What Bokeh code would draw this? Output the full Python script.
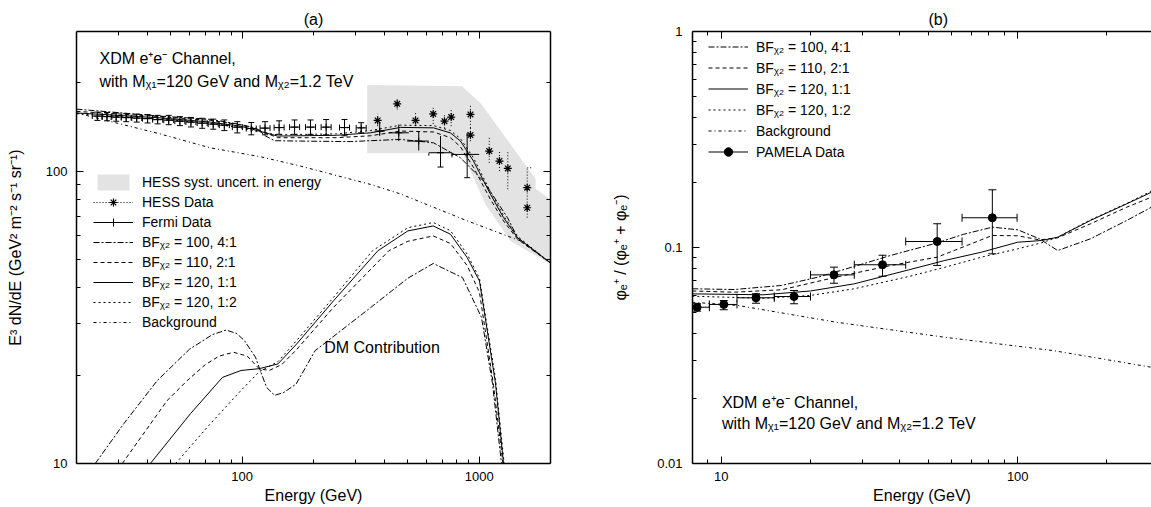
import math
from bokeh.plotting import figure
from bokeh.layouts import row
from bokeh.models import (Range1d, LogAxis, FixedTicker, CustomJSTickFormatter, Whisker,
                          TeeHead, ColumnDataSource, Legend, LegendItem, Label)
from bokeh.embed import file_html
from bokeh.resources import INLINE

FONT = "Liberation Sans"

# ======================= Panel (a) data =======================
band_E = [337, 337, 847, 1013, 1730, 1730, 2000, 2000, 1356, 1064, 919, 851]
band_v = [115, 197, 195, 171, 94, 87, 80, 48, 57.7, 76.9, 100, 115]

hess_E = [373, 451, 539, 640, 714, 762, 919, 919, 1103, 1218, 1321, 1595, 1595]
hess_v = [149, 169.7, 149, 156.8, 148.1, 152.9, 156.2, 132.7, 117, 108.2, 102.1, 87.7, 74.9]
hess_lo = [142.4, 162.4, 142.4, 145, 140, 142.4, 140.5, 126.6, 106.7, 100, 86.6, 78, 69.3]
hess_hi = [156.9, 177, 158.1, 164.4, 157.6, 161.5, 169.3, 140.5, 130, 117, 116.4, 102.6, 78]

fermi_E = [24.5, 26.9, 29.4, 32.4, 35.9, 39.9, 44.0, 49.0, 54.6, 60.8, 67.8, 75.5, 84.1, 95.4,
           109.3, 124.9, 143.2, 166.4, 194.3, 226.1, 270.3, 317.9, 380.5, 458, 556, 687, 890]
fermi_Elo = [23.3, 25.6, 28.0, 30.9, 34.2, 38.0, 41.9, 46.7, 52.0, 57.9, 64.6, 71.9, 80.1, 90.9,
             104.1, 119.0, 136.4, 158.5, 185.1, 215.4, 257.5, 302.8, 362.4, 416, 497, 613, 768]
fermi_Ehi = [25.7, 28.2, 30.9, 34.0, 37.7, 41.9, 46.2, 51.4, 57.3, 63.8, 71.2, 79.3, 88.3, 100.2,
             114.7, 131.1, 150.3, 174.7, 204.0, 237.4, 283.8, 333.7, 399.4, 505, 613, 768, 1000]
fermi_v = [154.1, 153.5, 152.9, 152.3, 151.7, 151.1, 149.9, 149.3, 148.1, 147.0, 145.8, 144.7, 143.5,
           141.3, 139.7, 140.2, 140.8, 141.3, 141.3, 141.3, 140.8, 140.5, 136.9, 135.1, 126.6, 115.5, 114.0]
fermi_lo = [149, 148.5, 148, 147.5, 147, 146, 145, 144, 143, 141.5, 140, 139, 137.5, 135, 133, 133,
            133.5, 133.5, 133.5, 133, 132, 135.1, 131.7, 126.6, 117.6, 103.2, 94.9]
fermi_hi = [159, 158.5, 158, 157, 156.5, 156, 155, 155, 153.5, 152.5, 151.5, 150.5, 149.5, 147.5,
            146.5, 147.5, 148.5, 149.5, 149.5, 150, 150, 146.3, 146.3, 144.3, 136.9, 131.7, 135.1]

bg_a_E = [20, 45, 73.5, 119, 176, 348, 466, 893, 1493, 2000]
bg_a_v = [158, 134, 120, 112, 104, 90, 83.5, 67.5, 57.7, 48.5]

tot41_E = [20, 45, 73.5, 98.4, 115, 125, 137, 176, 286, 466, 642, 834, 1043, 1317, 1451, 2000]
tot41_v = [162.8, 154.1, 150.2, 144.3, 140, 132, 127, 126.6, 126.1, 128.3, 124.9, 111, 92.4, 69.3, 59.2, 48.5]
tot_E = [20, 45, 73.5, 98.4, 118, 141, 250, 348, 466, 642, 757, 834, 946, 1116, 1267, 1451, 2000]
tot21_v = [160, 153.5, 149, 144, 138, 130, 130, 132, 137, 136, 130, 121, 103, 80, 67.5, 58.5, 48.5]
tot11_v = [158, 152, 147, 142.4, 137, 131.7, 132.5, 135.1, 141, 140.5, 135, 126.6, 108.2, 83.3, 69.3, 59.2, 48.5]
tot12_v = [157, 150.5, 145.5, 140.5, 136, 133, 134, 137.5, 143.5, 143, 137.5, 129, 111, 85, 70.5, 59.8, 48.5]

dm41_E = [24, 31.7, 43.8, 60, 75, 85.7, 95, 102.3, 113.8, 120, 126.8, 137, 150, 169, 203, 348, 500, 640, 851, 1023, 1138, 1242]
dm41_v = [10, 13.7, 19.2, 24.6, 27.6, 28.6, 27.8, 26.3, 23.1, 20.5, 18.2, 17.1, 17.5, 18.7, 24.3, 34.1, 43, 48.3, 43.2, 31.6, 18.8, 10]
dm21_E = [31.2, 48.2, 58.6, 70, 80, 92, 105, 118, 130, 147, 169.6, 243, 416, 500, 640, 757, 890, 1003, 1150, 1260]
dm21_v = [10, 16.4, 19.2, 21.8, 23.3, 24, 23.3, 21.1, 20.8, 21.8, 24.5, 34.2, 53.4, 57.5, 60, 56.5, 47.5, 38.5, 18.5, 10]
dm11_E = [41, 60.5, 82.6, 98.9, 118, 141.6, 169.6, 243, 374, 500, 640, 757, 890, 1003, 1172, 1267]
dm11_v = [10, 14.8, 19.7, 20.8, 21.1, 21.9, 25.6, 36, 53.4, 62.4, 64.9, 60.8, 50.6, 42.1, 18.8, 10]
dm12_E = [52.4, 71.2, 98.4, 118, 141.6, 169.6, 243, 355, 500, 640, 757, 890, 1003, 1172, 1275]
dm12_v = [10, 13.3, 17.7, 20.6, 22.3, 26.3, 37, 53.4, 64, 66.7, 62.5, 52, 43, 19.5, 10]

# ======================= Panel (b) data =======================
pam_E = [8.29, 10.2, 13.1, 17.6, 24.0, 35.0, 53.5, 82.1]
pam_v = [0.0529, 0.0545, 0.0585, 0.0593, 0.0747, 0.0832, 0.1066, 0.1373]
pam_lo = [0.0507, 0.0515, 0.0552, 0.0549, 0.0683, 0.0736, 0.0826, 0.0935]
pam_hi = [0.0549, 0.0568, 0.0611, 0.0632, 0.0811, 0.0921, 0.1288, 0.185]
pam_Elo = [7.4, 9.12, 11.3, 15.1, 20.0, 28.1, 41.9, 64.9]
pam_Ehi = [9.12, 11.3, 15.1, 20.0, 28.1, 41.9, 64.9, 99.5]

bg_b_E = [7.99, 11.4, 24.4, 56.8, 132.2, 282.6]
bg_b_v = [0.0558, 0.0539, 0.0451, 0.0384, 0.0333, 0.0279]

r41_E = [7.99, 11.06, 15.96, 21.2, 28.1, 37.2, 53.5, 65.5, 82.1, 100, 118.4, 136.4, 175.9, 233.2, 282.6]
r41_v = [0.0644, 0.0639, 0.0667, 0.0729, 0.0817, 0.0918, 0.105, 0.115, 0.1242, 0.1208, 0.1097, 0.0968, 0.1097, 0.1334, 0.1537]
r21_E = [7.99, 11.06, 15.96, 24.4, 37.2, 53.5, 82.1, 100, 118.4, 136.4, 175.9, 233.2, 282.6]
r21_v = [0.0629, 0.0621, 0.0637, 0.0729, 0.0825, 0.0902, 0.1137, 0.1133, 0.1085, 0.1109, 0.1287, 0.1537, 0.171]
r1x_E = [7.99, 13.85, 20, 28.1, 42.9, 56.8, 75.4, 100, 120.2, 136.4, 175.9, 233.2, 282.6]
r11_v = [0.061, 0.0604, 0.0629, 0.0679, 0.0788, 0.0871, 0.0951, 0.1058, 0.1077, 0.1116, 0.1334, 0.1593, 0.1803]
r12_v = [0.0595, 0.0582, 0.06, 0.0644, 0.0734, 0.081, 0.0902, 0.0986, 0.1051, 0.1116, 0.1343, 0.16, 0.1823]

# tick positions
a_xticks, a_xminor = [100, 1000], [30, 40, 50, 60, 70, 80, 90, 200, 300, 400, 500, 600, 700, 800, 900]
a_yticks, a_yminor = [10, 100], [20, 30, 40, 50, 60, 70, 80, 90, 200]
b_xticks, b_xminor = [10, 100], [9, 20, 30, 40, 50, 60, 70, 80, 90, 200]
b_yticks, b_yminor = [0.01, 0.1, 1], [0.02, 0.03, 0.04, 0.05, 0.06, 0.07, 0.08, 0.09,
                                      0.2, 0.3, 0.4, 0.5, 0.6, 0.7, 0.8, 0.9]

D41 = "6 2 2 2"
D21 = "4 3"
D12 = "2 3"
DBG = "3 3 1 3"


def fmt(hidden=False):
    if hidden:
        return CustomJSTickFormatter(code="return '';")
    return CustomJSTickFormatter(code="return tick.toString();")


def style_axis(ax, labels=True):
    ax.major_tick_in = 7
    ax.major_tick_out = 0
    ax.minor_tick_in = 4
    ax.minor_tick_out = 0
    ax.axis_line_color = "black"
    ax.axis_line_width = 1.5
    ax.major_tick_line_color = "black"
    ax.minor_tick_line_color = "black"
    ax.major_label_text_font = FONT
    ax.major_label_text_color = "black"
    ax.axis_label_text_font = FONT
    ax.axis_label_text_font_style = "normal"
    ax.axis_label_text_font_size = "16px"
    ax.axis_label_text_color = "black"
    if labels:
        ax.major_label_text_font_size = "13px"
    else:
        ax.major_label_text_font_size = "1px"
        ax.major_label_standoff = 0


def new_fig(width, xr, yr, mbl, mbr):
    p = figure(width=width, height=507, x_axis_type="log", y_axis_type="log",
               x_range=Range1d(*xr), y_range=Range1d(*yr),
               output_backend="svg", toolbar_location=None,
               min_border_left=mbl, min_border_right=mbr, min_border_top=31, min_border_bottom=44)
    p.xgrid.grid_line_color = None
    p.ygrid.grid_line_color = None
    p.outline_line_color = None
    p.background_fill_color = "white"
    p.border_fill_color = "white"
    return p


def setup_axes(p, xt, xm, yt, ym, right=True):
    bx = p.below[0]
    ly = p.left[0]
    bx.ticker = FixedTicker(ticks=xt, minor_ticks=xm)
    ly.ticker = FixedTicker(ticks=yt, minor_ticks=ym)
    bx.formatter = fmt()
    ly.formatter = fmt()
    style_axis(bx)
    style_axis(ly)
    top = LogAxis(ticker=FixedTicker(ticks=xt, minor_ticks=xm), formatter=fmt(True))
    style_axis(top, labels=False)
    p.add_layout(top, "above")
    if right:
        rt = LogAxis(ticker=FixedTicker(ticks=yt, minor_ticks=ym), formatter=fmt(True))
        style_axis(rt, labels=False)
        p.add_layout(rt, "right")
    return bx, ly


def style_title(p, text, align, offset=0):
    p.title.text = text
    p.title.align = align
    p.title.offset = offset
    p.title.text_font = FONT
    p.title.text_font_size = "16px"
    p.title.text_font_style = "normal"
    p.title.text_color = "black"
    p.title.standoff = 7


def label(p, x, y, text):
    p.add_layout(Label(x=x, y=y, text=text, text_font=FONT, text_font_size="16px",
                       text_baseline="middle", text_align="left", text_color="black"))


# ======================= Figure (a) =======================
pa = new_fig(600, (20, 2000), (10, 300), 76, 50)
ax_b, ax_l = setup_axes(pa, a_xticks, a_xminor, a_yticks, a_yminor, right=True)
style_title(pa, "(a)", "center")
ax_b.axis_label = "Energy (GeV)"
ax_l.axis_label = "E\u00b3 dN/dE (GeV\u00b2 m\u207b\u00b2 s\u207b\u00b9 sr\u207b\u00b9)"
ax_b.major_label_standoff = 8
ax_b.axis_label_standoff = 3
ax_l.major_label_standoff = 9
ax_l.axis_label_standoff = 19

band_r = pa.patch(band_E, band_v, fill_color="#e3e3e3", line_color=None)

hsrc = ColumnDataSource(dict(E=hess_E, v=hess_v, lo=hess_lo, hi=hess_hi))
hess_bar = pa.segment(x0="E", y0="lo", x1="E", y1="hi", source=hsrc, line_color="black",
                      line_dash="1 2", line_width=1)
pa.add_layout(Whisker(source=hsrc, base="E", lower="lo", upper="hi", line_alpha=0,
                      upper_head=TeeHead(size=8, line_color="black", line_width=1, line_dash="1 2"),
                      lower_head=TeeHead(size=8, line_color="black", line_width=1, line_dash="1 2")))
hess_pts = pa.scatter("E", "v", source=hsrc, marker="asterisk", size=8, line_color="black", line_width=1.2)

fsrc = ColumnDataSource(dict(E=fermi_E, Elo=fermi_Elo, Ehi=fermi_Ehi, v=fermi_v, lo=fermi_lo, hi=fermi_hi))
fermi_h = pa.segment(x0="Elo", y0="v", x1="Ehi", y1="v", source=fsrc, line_color="black", line_width=1)
pa.segment(x0="E", y0="lo", x1="E", y1="hi", source=fsrc, line_color="black", line_width=1)
pa.add_layout(Whisker(source=fsrc, base="E", lower="lo", upper="hi", line_alpha=0,
                      upper_head=TeeHead(size=6, line_color="black", line_width=1),
                      lower_head=TeeHead(size=6, line_color="black", line_width=1)))
pa.add_layout(Whisker(source=fsrc, base="v", lower="Elo", upper="Ehi", dimension="width", line_alpha=0,
                      upper_head=TeeHead(size=6, line_color="black", line_width=1),
                      lower_head=TeeHead(size=6, line_color="black", line_width=1)))
fermi_tick = pa.scatter("E", "v", source=fsrc, marker="cross", size=7,
                        line_color="black", line_width=1)

bg_a = pa.line(bg_a_E, bg_a_v, line_color="black", line_width=1, line_dash=DBG)
t41 = pa.line(tot41_E, tot41_v, line_color="black", line_width=1, line_dash=D41)
t21 = pa.line(tot_E, tot21_v, line_color="black", line_width=1, line_dash=D21)
t11 = pa.line(tot_E, tot11_v, line_color="black", line_width=1)
t12 = pa.line(tot_E, tot12_v, line_color="black", line_width=1, line_dash=D12)
pa.line(dm41_E, dm41_v, line_color="black", line_width=1, line_dash=D41)
pa.line(dm21_E, dm21_v, line_color="black", line_width=1, line_dash=D21)
pa.line(dm11_E, dm11_v, line_color="black", line_width=1)
pa.line(dm12_E, dm12_v, line_color="black", line_width=1, line_dash=D12)

leg_a = Legend(items=[
    LegendItem(label="HESS syst. uncert. in energy", renderers=[band_r]),
    LegendItem(label="HESS Data", renderers=[hess_bar, hess_pts]),
    LegendItem(label="Fermi Data", renderers=[fermi_h, fermi_tick]),
    LegendItem(label="BF\u1d6a\u2082 = 100, 4:1", renderers=[t41]),
    LegendItem(label="BF\u1d6a\u2082 = 110, 2:1", renderers=[t21]),
    LegendItem(label="BF\u1d6a\u2082 = 120, 1:1", renderers=[t11]),
    LegendItem(label="BF\u1d6a\u2082 = 120, 1:2", renderers=[t12]),
    LegendItem(label="Background", renderers=[bg_a]),
], location=(17, 131), padding=0, margin=0, spacing=0, glyph_width=40, glyph_height=20,
    label_height=20, label_standoff=9, label_text_font=FONT, label_text_font_size="14px",
    label_text_color="black", background_fill_alpha=0, border_line_alpha=0)
pa.add_layout(leg_a)

label(pa, 25, 243, "XDM e\u207ae\u207b Channel,")
label(pa, 25, 203, "with M\u1d6a\u2081=120 GeV and M\u1d6a\u2082=1.2 TeV")
label(pa, 222, 24.9, "DM Contribution")

# ======================= Figure (b) =======================
pb = new_fig(551, (8, 282.6), (0.01, 1), 92, 0)
bx_b, bx_l = setup_axes(pb, b_xticks, b_xminor, b_yticks, b_yminor, right=False)
style_title(pb, "(b)", "left", 236)
bx_b.axis_label = "Energy (GeV)"
bx_l.axis_label = "\u03c6\u2091\u207a / (\u03c6\u2091\u207a + \u03c6\u2091\u207b)"
bx_b.major_label_standoff = 8
bx_b.axis_label_standoff = 3
bx_l.major_label_standoff = 10
bx_l.axis_label_standoff = 25

psrc = ColumnDataSource(dict(E=pam_E, v=pam_v, lo=pam_lo, hi=pam_hi, Elo=pam_Elo, Ehi=pam_Ehi))
pam_h = pb.segment(x0="Elo", y0="v", x1="Ehi", y1="v", source=psrc, line_color="black", line_width=1)
pb.segment(x0="E", y0="lo", x1="E", y1="hi", source=psrc, line_color="black", line_width=1)
pb.add_layout(Whisker(source=psrc, base="E", lower="lo", upper="hi", line_alpha=0,
                      upper_head=TeeHead(size=8, line_color="black", line_width=1),
                      lower_head=TeeHead(size=8, line_color="black", line_width=1)))
pb.add_layout(Whisker(source=psrc, base="v", lower="Elo", upper="Ehi", dimension="width", line_alpha=0,
                      upper_head=TeeHead(size=8, line_color="black", line_width=1),
                      lower_head=TeeHead(size=8, line_color="black", line_width=1)))

b41 = pb.line(r41_E, r41_v, line_color="black", line_width=1, line_dash=D41)
b21 = pb.line(r21_E, r21_v, line_color="black", line_width=1, line_dash=D21)
b11 = pb.line(r1x_E, r11_v, line_color="black", line_width=1)
b12 = pb.line(r1x_E, r12_v, line_color="black", line_width=1, line_dash=D12)
bbg = pb.line(bg_b_E, bg_b_v, line_color="black", line_width=1, line_dash=DBG)
pam_pts = pb.scatter("E", "v", source=psrc, marker="circle", size=8, fill_color="black", line_color="black")

leg_b = Legend(items=[
    LegendItem(label="BF\u1d6a\u2082 = 100, 4:1", renderers=[b41]),
    LegendItem(label="BF\u1d6a\u2082 = 110, 2:1", renderers=[b21]),
    LegendItem(label="BF\u1d6a\u2082 = 120, 1:1", renderers=[b11]),
    LegendItem(label="BF\u1d6a\u2082 = 120, 1:2", renderers=[b12]),
    LegendItem(label="Background", renderers=[bbg]),
    LegendItem(label="PAMELA Data", renderers=[pam_h, pam_pts]),
], location=(16, 301), padding=0, margin=0, spacing=0, glyph_width=40, glyph_height=21,
    label_height=21, label_standoff=8, label_text_font=FONT, label_text_font_size="14px",
    label_text_color="black", background_fill_alpha=0, border_line_alpha=0)
pb.add_layout(leg_b)

label(pb, 10.05, 0.0192, "XDM e\u207ae\u207b Channel,")
label(pb, 10.05, 0.01527, "with M\u1d6a\u2081=120 GeV and M\u1d6a\u2082=1.2 TeV")

layout = row(pa, pb)
open("out.html", "w").write(file_html(layout, INLINE))
